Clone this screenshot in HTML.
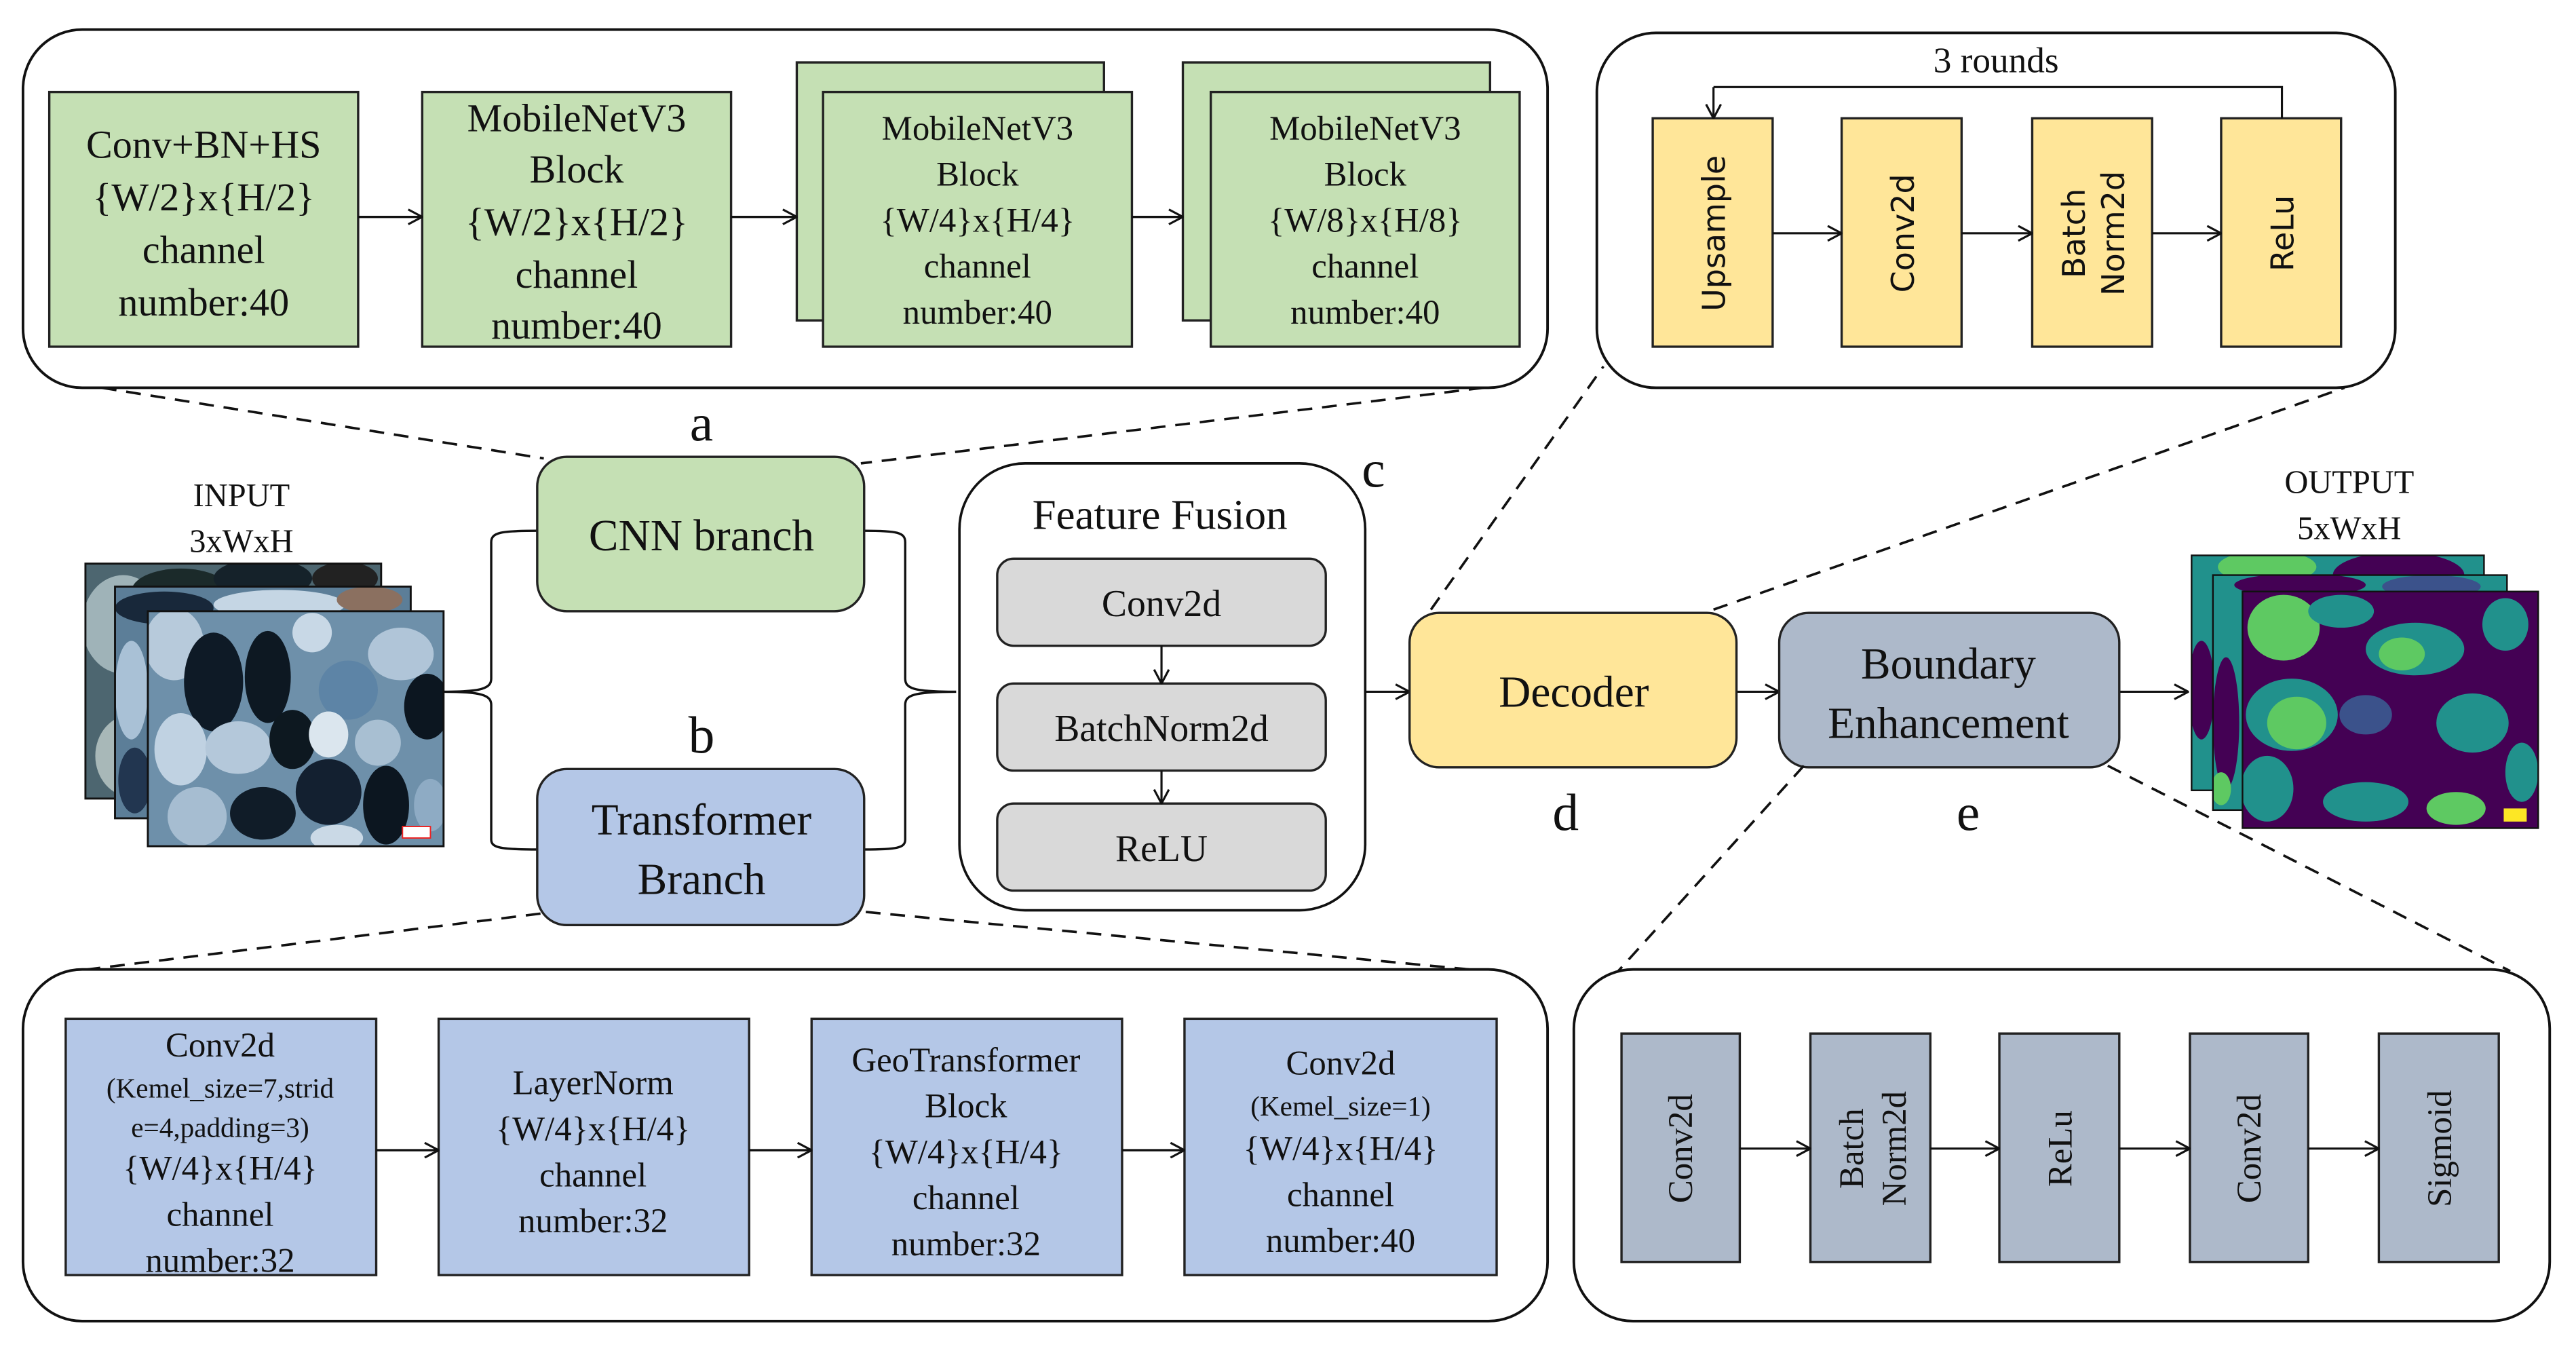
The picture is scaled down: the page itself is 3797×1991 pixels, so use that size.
<!DOCTYPE html>
<html><head><meta charset="utf-8">
<style>
html,body{margin:0;padding:0;background:#fff;}
svg{display:block;}
text{font-family:"Liberation Serif","Times New Roman",serif;fill:#111;}
.s{font-family:"DejaVu Sans","Liberation Sans",sans-serif;}
</style></head>
<body>
<svg width="3797" height="1991" viewBox="0 0 1568 822.2" preserveAspectRatio="none" xmlns="http://www.w3.org/2000/svg">
<defs>
<marker id="ar" viewBox="0 0 10 10" refX="9.5" refY="5" markerWidth="10" markerHeight="10" markerUnits="userSpaceOnUse" orient="auto">
<polyline points="1,0.5 9.5,5 1,9.5" fill="none" stroke="#111" stroke-width="1.3"/>
</marker>
<clipPath id="ci1"><rect x="52" y="343" width="180" height="143"/></clipPath>
<clipPath id="ci2"><rect x="70" y="357" width="180" height="141"/></clipPath>
<clipPath id="ci3"><rect x="90" y="372" width="180" height="143"/></clipPath>
<clipPath id="co1"><rect x="1334" y="338" width="178" height="143"/></clipPath>
<clipPath id="co2"><rect x="1347" y="350" width="179" height="143"/></clipPath>
<clipPath id="co3"><rect x="1365" y="360" width="180" height="144"/></clipPath>
</defs>

<!-- ===== Top CNN detail (a) ===== -->
<rect x="14" y="18" width="928" height="218" rx="36" fill="#fff" stroke="#111" stroke-width="1.6"/>
<g stroke="#222" stroke-width="1.4" fill="#c5e0b4">
<rect x="30" y="56" width="188" height="155"/>
<rect x="257" y="56" width="188" height="155"/>
<rect x="485" y="38" width="187" height="157"/>
<rect x="501" y="56" width="188" height="155"/>
<rect x="720" y="38" width="187" height="157"/>
<rect x="737" y="56" width="188" height="155"/>
</g>
<g stroke="#111" stroke-width="1.4" marker-end="url(#ar)">
<line x1="218" y1="132" x2="257" y2="132"/>
<line x1="445" y1="132" x2="485" y2="132"/>
<line x1="689" y1="132" x2="720" y2="132"/>
</g>
<g text-anchor="middle" font-size="24">
<text x="124" y="96">Conv+BN+HS</text>
<text x="124" y="128">{W/2}x{H/2}</text>
<text x="124" y="160">channel</text>
<text x="124" y="192">number:40</text>
<text x="351" y="80">MobileNetV3</text>
<text x="351" y="111">Block</text>
<text x="351" y="143">{W/2}x{H/2}</text>
<text x="351" y="175">channel</text>
<text x="351" y="206">number:40</text>
</g>
<g text-anchor="middle" font-size="21">
<text x="595" y="85">MobileNetV3</text>
<text x="595" y="113">Block</text>
<text x="595" y="141">{W/4}x{H/4}</text>
<text x="595" y="169">channel</text>
<text x="595" y="197">number:40</text>
<text x="831" y="85">MobileNetV3</text>
<text x="831" y="113">Block</text>
<text x="831" y="141">{W/8}x{H/8}</text>
<text x="831" y="169">channel</text>
<text x="831" y="197">number:40</text>
</g>
<g stroke="#111" stroke-width="1.5" stroke-dasharray="9,6" fill="none">
<line x1="62" y1="236" x2="331" y2="279"/>
<line x1="903" y1="236" x2="524" y2="282"/>
</g>
<text x="427" y="268" font-size="32" text-anchor="middle">a</text>

<!-- ===== Input images ===== -->
<g clip-path="url(#ci1)"><rect x="52" y="343" width="180" height="143" fill="#4d6670"/>
<ellipse cx="75" cy="380" rx="25" ry="30" fill="#9fb3b8"/><ellipse cx="80" cy="460" rx="22" ry="25" fill="#a8b8b8"/><ellipse cx="110" cy="360" rx="30" ry="14" fill="#1b2a2a"/><ellipse cx="160" cy="352" rx="30" ry="12" fill="#15222a"/><ellipse cx="210" cy="352" rx="20" ry="10" fill="#222"/></g>
<rect x="52" y="343" width="180" height="143" fill="none" stroke="#111" stroke-width="1.2"/>
<g clip-path="url(#ci2)"><rect x="70" y="357" width="180" height="141" fill="#5c7e98"/>
<ellipse cx="100" cy="370" rx="30" ry="10" fill="#18283a"/><ellipse cx="170" cy="368" rx="40" ry="9" fill="#c5d6e4"/><ellipse cx="80" cy="420" rx="10" ry="30" fill="#a9c1d6"/><ellipse cx="82" cy="475" rx="10" ry="20" fill="#223650"/><ellipse cx="225" cy="365" rx="20" ry="8" fill="#8b7060"/></g>
<rect x="70" y="357" width="180" height="141" fill="none" stroke="#111" stroke-width="1.2"/>
<g clip-path="url(#ci3)"><rect x="90" y="372" width="180" height="143" fill="#6e90aa"/>
<ellipse cx="106" cy="392" rx="18" ry="22" fill="#b7cadb"/>
<ellipse cx="130" cy="415" rx="18" ry="30" fill="#0e1a26"/>
<ellipse cx="163" cy="412" rx="14" ry="28" fill="#0d1822"/>
<ellipse cx="190" cy="385" rx="12" ry="12" fill="#c8d8e6"/>
<ellipse cx="212" cy="420" rx="18" ry="18" fill="#5d84a6"/>
<ellipse cx="244" cy="398" rx="20" ry="16" fill="#b0c5d8"/>
<ellipse cx="260" cy="430" rx="14" ry="20" fill="#0c1620"/>
<ellipse cx="110" cy="456" rx="16" ry="22" fill="#c0d2e2"/>
<ellipse cx="145" cy="455" rx="20" ry="16" fill="#b4c8da"/>
<ellipse cx="178" cy="450" rx="14" ry="18" fill="#0d1820"/>
<ellipse cx="200" cy="447" rx="12" ry="14" fill="#dbe6ee"/>
<ellipse cx="230" cy="452" rx="14" ry="14" fill="#a8bfd2"/>
<ellipse cx="120" cy="497" rx="18" ry="18" fill="#a6bdd1"/>
<ellipse cx="160" cy="495" rx="20" ry="16" fill="#101c28"/>
<ellipse cx="200" cy="482" rx="20" ry="20" fill="#132030"/>
<ellipse cx="235" cy="490" rx="14" ry="24" fill="#0c1620"/>
<ellipse cx="205" cy="510" rx="16" ry="8" fill="#cad9e6"/>
<ellipse cx="262" cy="490" rx="10" ry="16" fill="#8eabc4"/>
<rect x="245" y="503" width="17" height="7" fill="#fff" stroke="#e22" stroke-width="0.8"/></g>
<rect x="90" y="372" width="180" height="143" fill="none" stroke="#111" stroke-width="1.2"/>
<text x="147" y="308" font-size="20" text-anchor="middle">INPUT</text>
<text x="147" y="336" font-size="20" text-anchor="middle">3xWxH</text>

<!-- brackets -->
<g stroke="#111" stroke-width="1.4" fill="none">
<path d="M327,323 C305,323 299,324 299,330 L299,413 C299,419 293,421 270,421 C293,421 299,423 299,429 L299,511 C299,516 305,517 327,517"/>
<path d="M526,323 C546,323 551,324 551,330 L551,413 C551,419 556,421 582,421 M582,421 C556,421 551,423 551,429 L551,511 C551,516 546,517 526,517"/>
</g>

<!-- branches -->
<rect x="327" y="278" width="199" height="94" rx="18" fill="#c5e0b4" stroke="#222" stroke-width="1.4"/>
<text x="427" y="335" font-size="27" text-anchor="middle">CNN branch</text>
<text x="427" y="458" font-size="32" text-anchor="middle">b</text>
<rect x="327" y="468" width="199" height="95" rx="18" fill="#b4c7e7" stroke="#222" stroke-width="1.4"/>
<text x="427" y="508" font-size="27" text-anchor="middle">Transformer</text>
<text x="427" y="544" font-size="27" text-anchor="middle">Branch</text>

<!-- Feature fusion -->
<rect x="584" y="282" width="247" height="272" rx="40" fill="#fff" stroke="#111" stroke-width="1.5"/>
<text x="706" y="322" font-size="26" text-anchor="middle">Feature Fusion</text>
<text x="836" y="296" font-size="32" text-anchor="middle">c</text>
<g fill="#d9d9d9" stroke="#222" stroke-width="1.4">
<rect x="607" y="340" width="200" height="53" rx="10"/>
<rect x="607" y="416" width="200" height="53" rx="10"/>
<rect x="607" y="489" width="200" height="53" rx="10"/>
</g>
<g stroke="#111" stroke-width="1.3" marker-end="url(#ar)">
<line x1="707" y1="393" x2="707" y2="416"/>
<line x1="707" y1="469" x2="707" y2="489"/>
<line x1="831" y1="421" x2="858" y2="421"/>
<line x1="1057" y1="421" x2="1083" y2="421"/>
<line x1="1290" y1="421" x2="1332" y2="421"/>
</g>
<g font-size="23" text-anchor="middle">
<text x="707" y="375">Conv2d</text>
<text x="707" y="451">BatchNorm2d</text>
<text x="707" y="524">ReLU</text>
</g>

<!-- Decoder & BE -->
<rect x="858" y="373" width="199" height="94" rx="18" fill="#ffe699" stroke="#222" stroke-width="1.4"/>
<text x="958" y="430" font-size="27" text-anchor="middle">Decoder</text>
<text x="953" y="505" font-size="32" text-anchor="middle">d</text>
<rect x="1083" y="373" width="207" height="94" rx="18" fill="#adb9ca" stroke="#222" stroke-width="1.4"/>
<text x="1186" y="413" font-size="27" text-anchor="middle">Boundary</text>
<text x="1186" y="449" font-size="27" text-anchor="middle">Enhancement</text>
<text x="1198" y="505" font-size="32" text-anchor="middle">e</text>

<!-- Output images -->
<g clip-path="url(#co1)"><rect x="1334" y="338" width="178" height="143" fill="#21918c"/>
<ellipse cx="1380" cy="345" rx="30" ry="10" fill="#5ec962"/><ellipse cx="1460" cy="350" rx="40" ry="14" fill="#440154"/><ellipse cx="1340" cy="420" rx="8" ry="30" fill="#440154"/></g>
<rect x="1334" y="338" width="178" height="143" fill="none" stroke="#111" stroke-width="1"/>
<g clip-path="url(#co2)"><rect x="1347" y="350" width="179" height="143" fill="#21918c"/>
<ellipse cx="1400" cy="356" rx="40" ry="7" fill="#440154"/><ellipse cx="1480" cy="357" rx="30" ry="7" fill="#3b528b"/><ellipse cx="1355" cy="440" rx="8" ry="40" fill="#440154"/><ellipse cx="1352" cy="480" rx="6" ry="10" fill="#5ec962"/></g>
<rect x="1347" y="350" width="179" height="143" fill="none" stroke="#111" stroke-width="1"/>
<g clip-path="url(#co3)"><rect x="1365" y="360" width="180" height="144" fill="#440154"/>
<ellipse cx="1390" cy="382" rx="22" ry="20" fill="#5ec962"/>
<ellipse cx="1425" cy="372" rx="20" ry="10" fill="#21918c"/>
<ellipse cx="1470" cy="395" rx="30" ry="16" fill="#21918c"/>
<ellipse cx="1462" cy="398" rx="14" ry="10" fill="#5ec962"/>
<ellipse cx="1525" cy="380" rx="14" ry="16" fill="#21918c"/>
<ellipse cx="1395" cy="435" rx="28" ry="22" fill="#21918c"/>
<ellipse cx="1398" cy="440" rx="18" ry="16" fill="#5ec962"/>
<ellipse cx="1440" cy="435" rx="16" ry="12" fill="#3b528b"/>
<ellipse cx="1505" cy="440" rx="22" ry="18" fill="#21918c"/>
<ellipse cx="1380" cy="480" rx="16" ry="20" fill="#21918c"/>
<ellipse cx="1440" cy="488" rx="26" ry="12" fill="#21918c"/>
<ellipse cx="1495" cy="492" rx="18" ry="10" fill="#5ec962"/>
<ellipse cx="1535" cy="470" rx="10" ry="18" fill="#21918c"/>
<rect x="1524" y="492" width="14" height="8" fill="#fde725"/></g>
<rect x="1365" y="360" width="180" height="144" fill="none" stroke="#111" stroke-width="1"/>
<text x="1430" y="300" font-size="20" text-anchor="middle">OUTPUT</text>
<text x="1430" y="328" font-size="20" text-anchor="middle">5xWxH</text>

<!-- ===== Decoder detail (d) ===== -->
<rect x="972" y="20" width="486" height="216" rx="36" fill="#fff" stroke="#111" stroke-width="1.6"/>
<text x="1215" y="44" font-size="22" text-anchor="middle">3 rounds</text>
<g fill="#ffe699" stroke="#222" stroke-width="1.4">
<rect x="1006" y="72" width="73" height="139"/>
<rect x="1121" y="72" width="73" height="139"/>
<rect x="1237" y="72" width="73" height="139"/>
<rect x="1352" y="72" width="73" height="139"/>
</g>
<polyline points="1389,72 1389,53 1043,53" fill="none" stroke="#111" stroke-width="1.3"/>
<g stroke="#111" stroke-width="1.3" marker-end="url(#ar)">
<line x1="1043" y1="53" x2="1043" y2="72"/>
<line x1="1079" y1="142" x2="1121" y2="142"/>
<line x1="1194" y1="142" x2="1237" y2="142"/>
<line x1="1310" y1="142" x2="1352" y2="142"/>
</g>
<g class="s" font-size="19" text-anchor="middle">
<text class="s" transform="translate(1050,142) rotate(-90)">Upsample</text>
<text class="s" transform="translate(1165,142) rotate(-90)">Conv2d</text>
<text class="s" transform="translate(1269,142) rotate(-90)">Batch</text>
<text class="s" transform="translate(1293,142) rotate(-90)">Norm2d</text>
<text class="s" transform="translate(1396,142) rotate(-90)">ReLu</text>
</g>
<g stroke="#111" stroke-width="1.5" stroke-dasharray="9,6" fill="none">
<line x1="871" y1="371" x2="976" y2="223"/>
<line x1="1043" y1="371" x2="1427" y2="236"/>
</g>

<!-- ===== Transformer detail (b) ===== -->
<g stroke="#111" stroke-width="1.5" stroke-dasharray="9,6" fill="none">
<line x1="329" y1="556" x2="45" y2="591"/>
<line x1="527" y1="555" x2="905" y2="591"/>
</g>
<rect x="14" y="590" width="928" height="214" rx="36" fill="#fff" stroke="#111" stroke-width="1.6"/>
<g fill="#b4c7e7" stroke="#222" stroke-width="1.4">
<rect x="40" y="620" width="189" height="156"/>
<rect x="267" y="620" width="189" height="156"/>
<rect x="494" y="620" width="189" height="156"/>
<rect x="721" y="620" width="190" height="156"/>
</g>
<g stroke="#111" stroke-width="1.4" marker-end="url(#ar)">
<line x1="229" y1="700" x2="267" y2="700"/>
<line x1="456" y1="700" x2="494" y2="700"/>
<line x1="683" y1="700" x2="721" y2="700"/>
</g>
<g text-anchor="middle" font-size="21">
<text x="134" y="643">Conv2d</text>
<text x="134" y="668" font-size="17">(Kemel_size=7,strid</text>
<text x="134" y="692" font-size="17">e=4,padding=3)</text>
<text x="134" y="718">{W/4}x{H/4}</text>
<text x="134" y="746">channel</text>
<text x="134" y="774">number:32</text>
<text x="361" y="666">LayerNorm</text>
<text x="361" y="694">{W/4}x{H/4}</text>
<text x="361" y="722">channel</text>
<text x="361" y="750">number:32</text>
<text x="588" y="652">GeoTransformer</text>
<text x="588" y="680">Block</text>
<text x="588" y="708">{W/4}x{H/4}</text>
<text x="588" y="736">channel</text>
<text x="588" y="764">number:32</text>
<text x="816" y="654">Conv2d</text>
<text x="816" y="679" font-size="17">(Kemel_size=1)</text>
<text x="816" y="706">{W/4}x{H/4}</text>
<text x="816" y="734">channel</text>
<text x="816" y="762">number:40</text>
</g>

<!-- ===== Boundary detail (e) ===== -->
<g stroke="#111" stroke-width="1.5" stroke-dasharray="9,6" fill="none">
<line x1="1098" y1="466" x2="985" y2="591"/>
<line x1="1283" y1="466" x2="1528" y2="591"/>
</g>
<rect x="958" y="590" width="594" height="214" rx="36" fill="#fff" stroke="#111" stroke-width="1.6"/>
<g fill="#adb9ca" stroke="#222" stroke-width="1.4">
<rect x="987" y="629" width="72" height="139"/>
<rect x="1102" y="629" width="73" height="139"/>
<rect x="1217" y="629" width="73" height="139"/>
<rect x="1333" y="629" width="72" height="139"/>
<rect x="1448" y="629" width="73" height="139"/>
</g>
<g stroke="#111" stroke-width="1.3" marker-end="url(#ar)">
<line x1="1059" y1="699" x2="1102" y2="699"/>
<line x1="1175" y1="699" x2="1217" y2="699"/>
<line x1="1290" y1="699" x2="1333" y2="699"/>
<line x1="1405" y1="699" x2="1448" y2="699"/>
</g>
<g font-size="21" text-anchor="middle">
<text transform="translate(1030,699) rotate(-90)">Conv2d</text>
<text transform="translate(1134,699) rotate(-90)">Batch</text>
<text transform="translate(1160,699) rotate(-90)">Norm2d</text>
<text transform="translate(1261,699) rotate(-90)">ReLu</text>
<text transform="translate(1376,699) rotate(-90)">Conv2d</text>
<text transform="translate(1492,699) rotate(-90)">Sigmoid</text>
</g>
</svg>
</body></html>
